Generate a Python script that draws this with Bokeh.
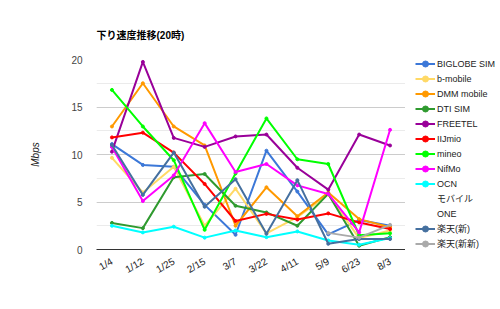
from bokeh.plotting import figure
from bokeh.layouts import row
from bokeh.models import FactorRange, Range1d, SingleIntervalTicker, Legend, LegendItem
from bokeh.embed import file_html
from bokeh.resources import INLINE

dates = ["1/4", "1/12", "1/25", "2/15", "3/7", "3/22", "4/11", "5/9", "6/23", "8/3"]

biglobe = [11.1, 8.9, 8.7, 4.7, 1.55, 10.4, 6.1, 1.6, 3.1, 2.5]
bmobile = [9.65, 6.0, 8.7, 2.5, 6.4, 1.7, 3.4, 5.8, 1.2, 2.0]
dmm = [12.95, 17.5, 12.95, 10.95, 2.5, 6.55, 3.5, 6.0, 3.2, 2.35]
dti = [2.8, 2.25, 7.6, 7.95, 4.6, 3.9, 2.5, 5.85, 0.4, 1.3]
freetel = [10.3, 19.75, 11.75, 10.8, 11.9, 12.1, 8.6, 6.3, 12.1, 10.95]
iijmio = [11.8, 12.3, 10.2, 6.9, 3.0, 3.75, 3.15, 3.8, 2.85, 2.15]
mineo = [16.8, 12.95, 9.4, 2.07, 8.0, 13.8, 9.5, 9.0, 1.5, 1.7]
nifmo = [10.8, 5.1, 7.8, 13.3, 8.15, 9.0, 6.75, 5.85, 1.8, 12.6]
ocn = [2.5, 1.8, 2.4, 1.25, 2.0, 1.3, 1.9, 0.95, 0.5, 1.2]
rakuten_new = [11.0, 5.75, 10.2, 4.5, 7.4, 1.65, 7.3, 0.6, 1.1, 1.1]
rakuten_newnew_dates = ["5/9", "6/23", "8/3"]
rakuten_newnew = [1.75, 1.25, 2.6]

series_names = ["BIGLOBE SIM", "b-mobile", "DMM mobile", "DTI SIM", "FREETEL", "IIJmio",
                "mineo", "NifMo", "OCN", "楽天(新)", "楽天(新新)"]
ocn_extra_lines = ["モバイル", "ONE"]
y_ticks_max = 20

colors = ["#3c78d8", "#ffd966", "#ff9900", "#2f9a2f", "#990099", "#ff0000",
          "#00ff00", "#ff00ff", "#00ffff", "#45709f", "#aaaaaa"]

FONT = "Liberation Sans, Arial, Noto Sans CJK JP, sans-serif"

p = figure(width=405, height=309, x_range=FactorRange(*dates), y_range=Range1d(0, y_ticks_max),
           output_backend="svg", toolbar_location=None,
           min_border_left=96, min_border_right=0, min_border_top=59, min_border_bottom=60)
p.outline_line_color = None
p.background_fill_color = "white"
p.border_fill_color = "white"
p.x_range.range_padding = 0

p.title.text = "下り速度推移(20時)"
p.title.text_font = FONT
p.title.text_font_size = "10px"
p.title.text_font_style = "bold"
p.title.text_color = "#000000"
p.title.align = "left"
p.title.standoff = 38

p.yaxis.ticker = SingleIntervalTicker(interval=5, num_minor_ticks=2)
p.yaxis.axis_line_color = None
p.yaxis.major_tick_line_color = None
p.yaxis.minor_tick_line_color = None
p.yaxis.major_label_text_font = FONT
p.yaxis.major_label_text_font_size = "10px"
p.yaxis.major_label_text_color = "#444444"
p.yaxis.major_label_standoff = 8
p.yaxis.axis_label = "Mbps"
p.yaxis.axis_label_text_font = FONT
p.yaxis.axis_label_text_font_size = "10px"
p.yaxis.axis_label_text_font_style = "italic"
p.yaxis.axis_label_text_color = "#222222"
p.yaxis.axis_label_standoff = 27

p.xaxis.axis_line_color = "#333333"
p.xaxis.axis_line_width = 1
p.xaxis.major_tick_line_color = None
p.xaxis.minor_tick_line_color = None
p.xaxis.major_label_orientation = 0.52
p.xaxis.major_label_text_font = FONT
p.xaxis.major_label_text_font_size = "10px"
p.xaxis.major_label_text_color = "#222222"
p.xaxis.major_label_standoff = 5

p.xgrid.grid_line_color = None
p.ygrid.grid_line_color = "#cccccc"
p.ygrid.minor_grid_line_color = "#ebebeb"

all_series = [(dates, biglobe), (dates, bmobile), (dates, dmm), (dates, dti), (dates, freetel),
              (dates, iijmio), (dates, mineo), (dates, nifmo), (dates, ocn), (dates, rakuten_new),
              (rakuten_newnew_dates, rakuten_newnew)]

for (xs, ys), c in zip(all_series, colors):
    p.line(xs, ys, line_color=c, line_width=2)
    p.scatter(xs, ys, size=3, fill_color=c, line_color=c)

# legend panel: same series, drawn out of its visible y range so only legend keys show
lp = figure(width=95, height=309, x_range=FactorRange(*dates), y_range=Range1d(-200, -190),
            output_backend="svg", toolbar_location=None, min_border=0)
lp.outline_line_color = None
lp.axis.visible = False
lp.grid.visible = False

items = []
for (xs, ys), name, c in zip(all_series, series_names, colors):
    ln = lp.line(xs, ys, line_color=c, line_width=2)
    pt = lp.scatter(xs, ys, size=3, fill_color=c, line_color=c)
    items.append(LegendItem(label=name, renderers=[ln, pt]))
    if name == "OCN":
        for extra in ocn_extra_lines:
            blank = lp.line(xs, ys, line_alpha=0)
            items.append(LegendItem(label=extra, renderers=[blank]))

legend = Legend(items=items, location=(10, -2), orientation="vertical",
                background_fill_alpha=0, border_line_alpha=0,
                margin=0, padding=0, spacing=0,
                glyph_width=20, glyph_height=15, label_height=15, label_standoff=2,
                label_text_font=FONT, label_text_font_size="9px", label_text_color="#222222")
lp.add_layout(legend, "center")

open("out.html", "w").write(file_html(row(p, lp), INLINE))
